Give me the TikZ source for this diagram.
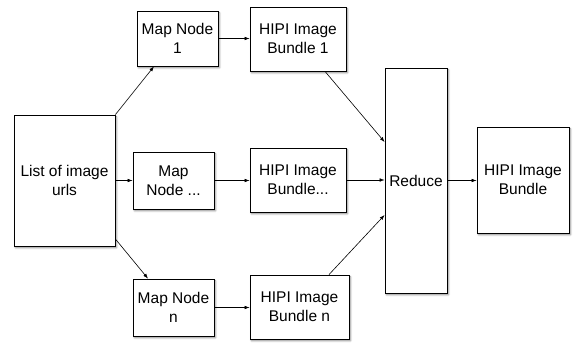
\documentclass[tikz,border=0pt]{standalone}
\usepackage{fontspec}
\setmainfont{Liberation Sans}
\usetikzlibrary{arrows.meta,shadows.blur}
\begin{document}
\begin{tikzpicture}[x=1pt,y=-1pt,
  box/.style={draw=black,line width=0.8pt,fill=white,align=center,inner sep=0pt,
    font=\fontsize{15.5}{18.7}\selectfont,
    blur shadow={shadow xshift=1.5pt,shadow yshift=-1.8pt,shadow blur radius=1.8pt,shadow opacity=45}},
  link/.style={line width=0.6pt,-{Latex[length=5pt,width=3.6pt]}}]
\useasboundingbox (0,0) rectangle (575,345);
% input list
\node[box,minimum width=101pt,minimum height=131pt] (list) at (64.5,180.5) {List of image\\urls};
% map stage
\node[box,minimum width=81pt,minimum height=55pt] (m1) at (177.5,38.5) {Map Node\\1};
\node[box,minimum width=81pt,minimum height=57pt] (m2) at (173.5,180.5) {Map\\Node ...};
\node[box,minimum width=81pt,minimum height=57pt] (mn) at (173.5,307.5) {Map Node\\n};
% bundles
\node[box,minimum width=96pt,minimum height=64pt] (b1) at (298,39) {HIPI Image\\Bundle 1};
\node[box,minimum width=96pt,minimum height=64pt] (b2) at (298,180) {HIPI Image\\Bundle...};
\node[box,minimum width=99pt,minimum height=64pt] (bn) at (299.5,307) {HIPI Image\\Bundle n};
% reduce and output
\node[box,minimum width=62pt,minimum height=225pt] (red) at (416,180.5) {Reduce};
\node[box,minimum width=92pt,minimum height=106pt] (out) at (523,180) {HIPI Image\\Bundle};
% connectors
\draw[link] (list.north east) -- ([xshift=-23.5pt]m1.south);
\draw[link] (list.east) -- (m2.west);
\draw[link] ([yshift=-58.5pt]list.east) -- ([xshift=-25.5pt]mn.north);
\draw[link] (m1.east) -- (b1.west |- m1.east);
\draw[link] (m2.east) -- (b2.west |- m2.east);
\draw[link] (mn.east) -- (bn.west |- mn.east);
\draw[link] ([xshift=27pt]b1.south) -- ([yshift=38.5pt]red.west);
\draw[link] (b2.east) -- (red.west |- b2.east);
\draw[link] ([xshift=29.5pt]bn.north) -- ([yshift=-34.5pt]red.west);
\draw[link] (red.east) -- (out.west |- red.east);
\end{tikzpicture}
\end{document}
